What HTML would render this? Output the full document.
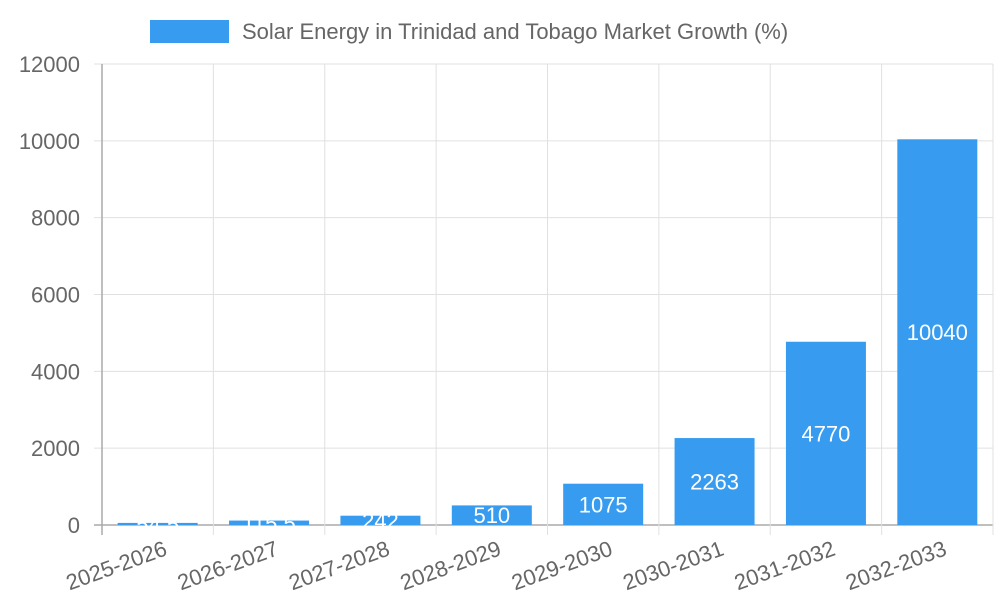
<!DOCTYPE html>
<html><head><meta charset="utf-8"><style>
body{margin:0;background:#fff;font-family:"Liberation Sans",sans-serif}
</style></head><body>
<svg id="c" width="1000" height="600" xmlns="http://www.w3.org/2000/svg" font-family="Liberation Sans, sans-serif"></svg>
<script>
const categories=["2025-2026","2026-2027","2027-2028","2028-2029","2029-2030","2030-2031","2031-2032","2032-2033"];
const values=[54.5,115.5,242,510,1075,2263,4770,10040];
const yTicks=[0,2000,4000,6000,8000,10000,12000];
const seriesName="Solar Energy in Trinidad and Tobago Market Growth (%)";
const svg=document.getElementById('c');
const NS="http://www.w3.org/2000/svg";
const X0=102,X1=993,Y0=525,Y1=64,YMAX=12000;
const bw=(X1-X0)/categories.length;
const y=v=>Y0-(v/YMAX)*(Y0-Y1);
const x=i=>X0+bw*i;
function mk(t,a,p){const e=document.createElementNS(NS,t);for(const k in a)e.setAttribute(k,a[k]);(p||svg).appendChild(e);return e;}
// legend
const lg=mk('g',{});


mk('rect',{x:150,y:20,width:79,height:23,fill:'#379cf0'},lg);
const lt=mk('text',{x:242,y:39,'font-size':22,fill:'#666'},lg);lt.textContent=seriesName;
// grid
yTicks.forEach(t=>{
 const l=mk('line',{x1:X0-8,x2:X1,y1:y(t),y2:y(t),stroke:t===0?'#aaa':'#e0e0e0','stroke-width':t===0?1.5:1});
 
 
 const tx=mk('text',{x:X0-22,y:y(t)+8,'font-size':22,fill:'#666','text-anchor':'end'});
 
 
 tx.textContent=t;
});
for(let i=0;i<=categories.length;i++){
 const l=mk('line',{x1:x(i),x2:x(i),y1:Y1,y2:Y0+10,stroke:i===0?'#aaa':'#e0e0e0','stroke-width':i===0?1.5:1});
 
 
}
categories.forEach((c,i)=>{
 const cx=x(i)+bw/2, w=80;
 const r=mk('rect',{x:cx-w/2,y:y(values[i]),width:w,height:Y0-y(values[i]),fill:'#379cf0'});
 
 
 const vt=mk('text',{x:cx,y:(y(values[i])+Y0)/2+8,'font-size':22,fill:'#fff','text-anchor':'middle'});
 
 
 vt.textContent=values[i];
 const lx=cx+8,ly=Y0+22;
 const t=mk('text',{x:lx,y:ly+8,'font-size':22,fill:'#666','text-anchor':'end',transform:`rotate(-20 ${lx} ${ly})`});
 
 
 t.textContent=c;
});
</script>
</body></html>
